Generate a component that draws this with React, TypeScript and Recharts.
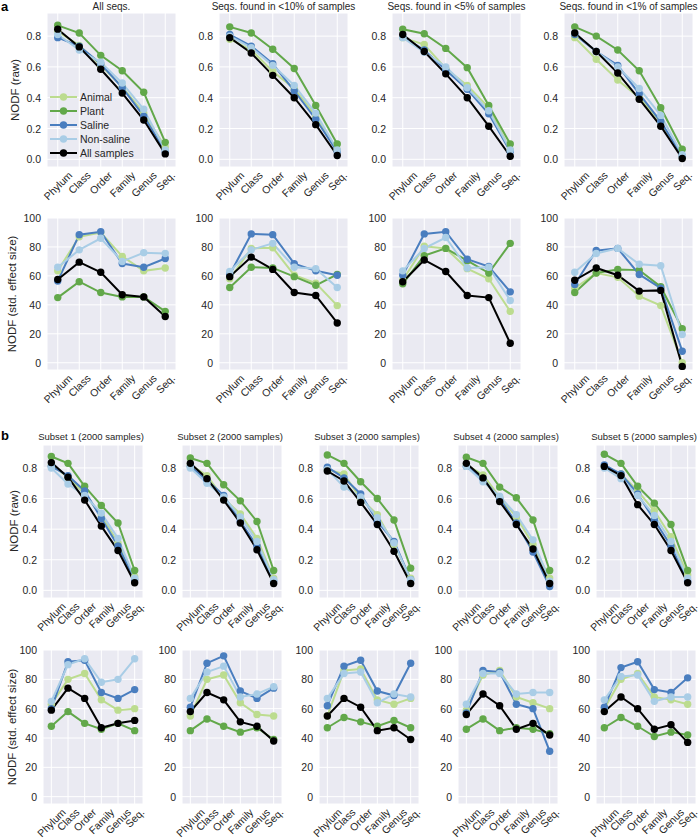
import React from "react";
import { CartesianGrid, Legend, Line, LineChart, XAxis, YAxis } from "recharts";

const levels = ["Phylum", "Class", "Order", "Family", "Genus", "Seq."];
const groups = ["Animal", "Plant", "Saline", "Non-saline", "All samples"];
const colors = ["#bcdc8f", "#62a84a", "#4a7ebf", "#a9cde6", "#000000"];

const titlesA = [
  "All seqs.",
  "Seqs. found in <10% of samples",
  "Seqs. found in <5% of samples",
  "Seqs. found in <1% of samples",
];
const titlesB = [
  "Subset 1 (2000 samples)",
  "Subset 2 (2000 samples)",
  "Subset 3 (2000 samples)",
  "Subset 4 (2000 samples)",
  "Subset 5 (2000 samples)",
];

const rawTicks = [0, 0.2, 0.4, 0.6, 0.8];
const sesTicks = [0, 20, 40, 60, 80, 100];

// panel a, NODF (raw) — one row per panel
const animalRawA = [
  [0.83, 0.74, 0.61, 0.47, 0.3, 0.08],
  [0.78, 0.71, 0.57, 0.46, 0.28, 0.06],
  [0.79, 0.745, 0.59, 0.48, 0.335, 0.06],
  [0.79, 0.65, 0.515, 0.4, 0.24, 0.015],
];
const plantRawA = [
  [0.87, 0.82, 0.675, 0.575, 0.435, 0.11],
  [0.86, 0.82, 0.715, 0.59, 0.35, 0.1],
  [0.845, 0.815, 0.72, 0.595, 0.35, 0.1],
  [0.86, 0.8, 0.71, 0.575, 0.335, 0.065],
];
const salineRawA = [
  [0.79, 0.735, 0.62, 0.465, 0.28, 0.05],
  [0.81, 0.735, 0.62, 0.445, 0.26, 0.05],
  [0.795, 0.71, 0.58, 0.455, 0.295, 0.05],
  [0.81, 0.7, 0.61, 0.425, 0.245, 0.02],
];
const nonSalineRawA = [
  [0.81, 0.71, 0.63, 0.495, 0.325, 0.06],
  [0.8, 0.725, 0.61, 0.48, 0.3, 0.06],
  [0.79, 0.695, 0.6, 0.465, 0.315, 0.06],
  [0.82, 0.7, 0.6, 0.46, 0.285, 0.03],
];
const allRawA = [
  [0.845, 0.73, 0.585, 0.43, 0.255, 0.035],
  [0.79, 0.69, 0.545, 0.4, 0.225, 0.025],
  [0.81, 0.7, 0.555, 0.4, 0.215, 0.02],
  [0.82, 0.7, 0.56, 0.39, 0.215, 0.005],
];

// panel a, NODF (std. effect size)
const animalSesA = [
  [63.5, 87, 90, 73.5, 63.5, 65.5],
  [58, 79, 79.5, 60.5, 55, 39.5],
  [57, 80.5, 79, 65, 58, 35.5],
  [51.5, 62, 59, 46, 39.5, 0],
];
const plantSesA = [
  [45, 56, 48.5, 45.5, 45.5, 35.5],
  [52, 66, 65.5, 59.5, 53.5, 61],
  [54.5, 74, 79, 70.5, 62, 82.5],
  [48.5, 62, 64.5, 64, 52.5, 23.5],
];
const salineSesA = [
  [56.5, 88.5, 90.5, 68.5, 66, 72],
  [61, 89, 88.5, 68.5, 63.5, 60.5],
  [60.5, 89, 90.5, 71.5, 66.5, 49],
  [54, 77.5, 79, 61, 51.5, 8],
];
const nonSalineSesA = [
  [66, 78, 86, 70, 76, 75.5],
  [63, 78, 82.5, 66, 65, 52],
  [63.5, 79, 86.5, 65.5, 66, 43],
  [62.5, 75.5, 79, 68, 67, 19.5],
];
const allSesA = [
  [57.5, 69.5, 62.5, 47, 45.5, 32],
  [59.5, 73, 64.5, 48.5, 46.5, 27.5],
  [56, 71, 63, 46.5, 45, 13.5],
  [57, 65.5, 60.5, 49.5, 50, -2.5],
];

// panel b, NODF (raw)
const animalRawB = [
  [0.82, 0.74, 0.63, 0.49, 0.31, 0.09],
  [0.82, 0.75, 0.6, 0.5, 0.34, 0.08],
  [0.79, 0.76, 0.6, 0.495, 0.3, 0.08],
  [0.82, 0.755, 0.61, 0.48, 0.3, 0.08],
  [0.81, 0.76, 0.65, 0.52, 0.35, 0.1],
];
const plantRawB = [
  [0.875, 0.83, 0.68, 0.555, 0.44, 0.13],
  [0.865, 0.83, 0.69, 0.585, 0.45, 0.13],
  [0.885, 0.83, 0.71, 0.6, 0.46, 0.145],
  [0.87, 0.83, 0.675, 0.605, 0.46, 0.13],
  [0.89, 0.83, 0.68, 0.57, 0.43, 0.13],
];
const salineRawB = [
  [0.81, 0.75, 0.65, 0.47, 0.29, 0.07],
  [0.81, 0.72, 0.62, 0.45, 0.29, 0.06],
  [0.805, 0.735, 0.63, 0.45, 0.32, 0.07],
  [0.81, 0.73, 0.6, 0.44, 0.25, 0.025],
  [0.82, 0.76, 0.63, 0.46, 0.29, 0.06],
];
const nonSalineRawB = [
  [0.8, 0.695, 0.62, 0.505, 0.34, 0.08],
  [0.8, 0.7, 0.61, 0.48, 0.32, 0.07],
  [0.79, 0.675, 0.61, 0.475, 0.31, 0.07],
  [0.81, 0.71, 0.615, 0.495, 0.33, 0.06],
  [0.8, 0.73, 0.62, 0.49, 0.32, 0.08],
];
const allRawB = [
  [0.835, 0.74, 0.59, 0.42, 0.26, 0.05],
  [0.83, 0.73, 0.59, 0.44, 0.265, 0.045],
  [0.78, 0.715, 0.575, 0.43, 0.255, 0.045],
  [0.83, 0.735, 0.58, 0.43, 0.27, 0.045],
  [0.81, 0.75, 0.56, 0.43, 0.26, 0.05],
];

// panel b, NODF (std. effect size)
const animalSesB = [
  [63, 80, 84, 66, 59, 60],
  [55, 80, 83, 64, 56, 55],
  [55, 86, 87, 66, 63, 67],
  [59, 83, 86, 68, 64, 60],
  [60, 80, 84, 68, 66, 63],
];
const plantSesB = [
  [48, 58, 50, 46, 50, 45],
  [45, 53, 48, 44, 47, 39],
  [47, 54, 51, 48, 52, 47],
  [46, 53, 45, 47, 46, 43],
  [47, 54, 48, 41, 44, 42],
];
const salineSesB = [
  [60, 92, 93, 71, 67, 73],
  [61, 91, 96, 72, 67, 74],
  [62, 89, 93, 72, 69, 91],
  [57, 86, 85, 63, 60, 31],
  [61, 88, 92, 73, 71, 81],
];
const nonSalineSesB = [
  [65, 90, 94, 78, 80, 94],
  [67, 85, 89, 68, 70, 75],
  [67, 84, 85, 64, 70, 68],
  [63, 84, 84, 70, 71, 71],
  [66, 82, 83, 65, 68, 68],
];
const allSesB = [
  [59, 74, 67, 47, 50, 52],
  [58, 71, 66, 51, 48, 38],
  [55, 67, 61, 45, 47, 39],
  [56, 70, 62, 46, 50, 42],
  [58, 68, 60, 46, 49, 37],
];

const FONT = '"Liberation Sans", Arial, Helvetica, sans-serif';
const TEXT = "#262626";

let ctx: CanvasRenderingContext2D | null = null;
function textWidth(s: string, size: number) {
  if (!ctx) ctx = document.createElement("canvas").getContext("2d");
  if (!ctx) return s.length * size * 0.55;
  ctx.font = `${size}px ${FONT}`;
  return ctx.measureText(s).width;
}

// rotated labels, centred under the tick like matplotlib's rotation=45
const XTick = (props: any) => {
  const { x, y, payload } = props;
  const label = levels[payload.value];
  if (!label) return null;
  const side = (textWidth(label, 10.5) + 6) * Math.SQRT1_2;
  const cx = x;
  const cy = y + 4 + side / 2;
  return (
    <text
      x={cx}
      y={cy}
      transform={`rotate(-45 ${cx} ${cy})`}
      textAnchor="middle"
      dominantBaseline="central"
      fontSize={10.5}
      fontFamily={FONT}
      fill={TEXT}
    >
      {label}
    </text>
  );
};

const YTick = (props: any) => {
  const { x, y, payload, raw } = props;
  return (
    <text
      x={x - 6}
      y={y}
      textAnchor="end"
      dominantBaseline="central"
      fontSize={10.5}
      fontFamily={FONT}
      fill={TEXT}
    >
      {raw ? payload.value.toFixed(1) : payload.value}
    </text>
  );
};

function LegendBox() {
  return (
    <svg width={110} height={72}>
      {groups.map((g, k) => (
        <g key={g} transform={`translate(0, ${7 + k * 14})`}>
          <line x1={0} x2={27} y1={0} y2={0} stroke={colors[k]} strokeWidth={2} />
          <circle cx={13.5} cy={0} r={3.7} fill={colors[k]} />
          <text x={30} y={0} dominantBaseline="central" fontSize={10.5} fontFamily={FONT} fill={TEXT}>
            {g}
          </text>
        </g>
      ))}
    </svg>
  );
}

interface PanelProps {
  left: number;
  top: number;
  w: number;
  h: number;
  series: number[][];
  raw: boolean;
  legend?: boolean;
}

function Panel({ left, top, w, h, series, raw, legend }: PanelProps) {
  const data = levels.map((name, i) => {
    const row: any = { i, name };
    groups.forEach((g, k) => (row[g] = series[k][i]));
    return row;
  });
  return (
    <div style={{ position: "absolute", left: left - 40, top: top - 5 }}>
      <LineChart
        width={40 + w + 5}
        height={5 + h + 45}
        data={data}
        margin={{ top: 5, right: 5, bottom: 0, left: 0 }}
      >
        <CartesianGrid fill="#eaeaf2" stroke="#ffffff" strokeWidth={1} />
        <XAxis
          dataKey="i"
          type="number"
          domain={[-0.5, 5.5]}
          ticks={[0, 1, 2, 3, 4, 5]}
          height={45}
          axisLine={false}
          tickLine={false}
          tickSize={0}
          tickMargin={0}
          interval={0}
          tick={<XTick />}
        />
        <YAxis
          type="number"
          domain={raw ? [-0.05, 0.95] : [-5, 100]}
          ticks={raw ? rawTicks : sesTicks}
          width={40}
          axisLine={false}
          tickLine={false}
          tickSize={0}
          tickMargin={0}
          interval={0}
          allowDataOverflow
          tick={<YTick raw={raw} />}
        />
        {groups.map((g, k) => (
          <Line
            key={g}
            dataKey={g}
            stroke={colors[k]}
            strokeWidth={2}
            dot={{ r: 3.7, fill: colors[k], stroke: colors[k], strokeWidth: 0 }}
            isAnimationActive={false}
          />
        ))}
        {legend && (
          <Legend
            layout="vertical"
            align="center"
            verticalAlign="middle"
            wrapperStyle={{ left: 43, top: 82, width: 110 }}
            content={() => <LegendBox />}
          />
        )}
      </LineChart>
    </div>
  );
}

const aLefts = [47, 219, 392, 564];
const bLefts = [43, 182, 319, 458, 596];

export default function App() {
  const label = (text: string, x: number, y: number) => (
    <text
      x={x}
      y={y}
      transform={`rotate(-90 ${x} ${y})`}
      textAnchor="middle"
      dominantBaseline="central"
      fontSize={11.5}
      fontFamily={FONT}
      fill={TEXT}
    >
      {text}
    </text>
  );
  return (
    <div style={{ position: "absolute", left: 0, top: 0, width: 700, height: 839, background: "#fff" }}>
      <svg width={700} height={839} style={{ position: "absolute", left: 0, top: 0 }}>
        <text x={1} y={11} fontSize={13} fontWeight="bold" fontFamily={FONT} fill="#000">a</text>
        <text x={1} y={440} fontSize={13} fontWeight="bold" fontFamily={FONT} fill="#000">b</text>
        {titlesA.map((t, i) => (
          <text key={t} x={aLefts[i] + 64.5} y={10} textAnchor="middle" fontSize={10} fontFamily={FONT} fill={TEXT}>
            {t}
          </text>
        ))}
        {titlesB.map((t, i) => (
          <text key={t} x={bLefts[i] + 48} y={440} textAnchor="middle" fontSize={9.5} fontFamily={FONT} fill={TEXT}>
            {t}
          </text>
        ))}
        {label("NODF (raw)", 15, 90)}
        {label("NODF (std. effect size)", 12, 294)}
        {label("NODF (raw)", 14, 521)}
        {label("NODF (std. effect size)", 12, 727)}
      </svg>
      {aLefts.map((x, i) => (
        <Panel
          key={`ar${i}`}
          left={x}
          top={13}
          w={129}
          h={154}
          raw
          legend={i === 0}
          series={[animalRawA[i], plantRawA[i], salineRawA[i], nonSalineRawA[i], allRawA[i]]}
        />
      ))}
      {aLefts.map((x, i) => (
        <Panel
          key={`as${i}`}
          left={x}
          top={218}
          w={129}
          h={152}
          raw={false}
          series={[animalSesA[i], plantSesA[i], salineSesA[i], nonSalineSesA[i], allSesA[i]]}
        />
      ))}
      {bLefts.map((x, i) => (
        <Panel
          key={`br${i}`}
          left={x}
          top={445}
          w={100}
          h={153}
          raw
          series={[animalRawB[i], plantRawB[i], salineRawB[i], nonSalineRawB[i], allRawB[i]]}
        />
      ))}
      {bLefts.map((x, i) => (
        <Panel
          key={`bs${i}`}
          left={x}
          top={650}
          w={100}
          h={154}
          raw={false}
          series={[animalSesB[i], plantSesB[i], salineSesB[i], nonSalineSesB[i], allSesB[i]]}
        />
      ))}
    </div>
  );
}
